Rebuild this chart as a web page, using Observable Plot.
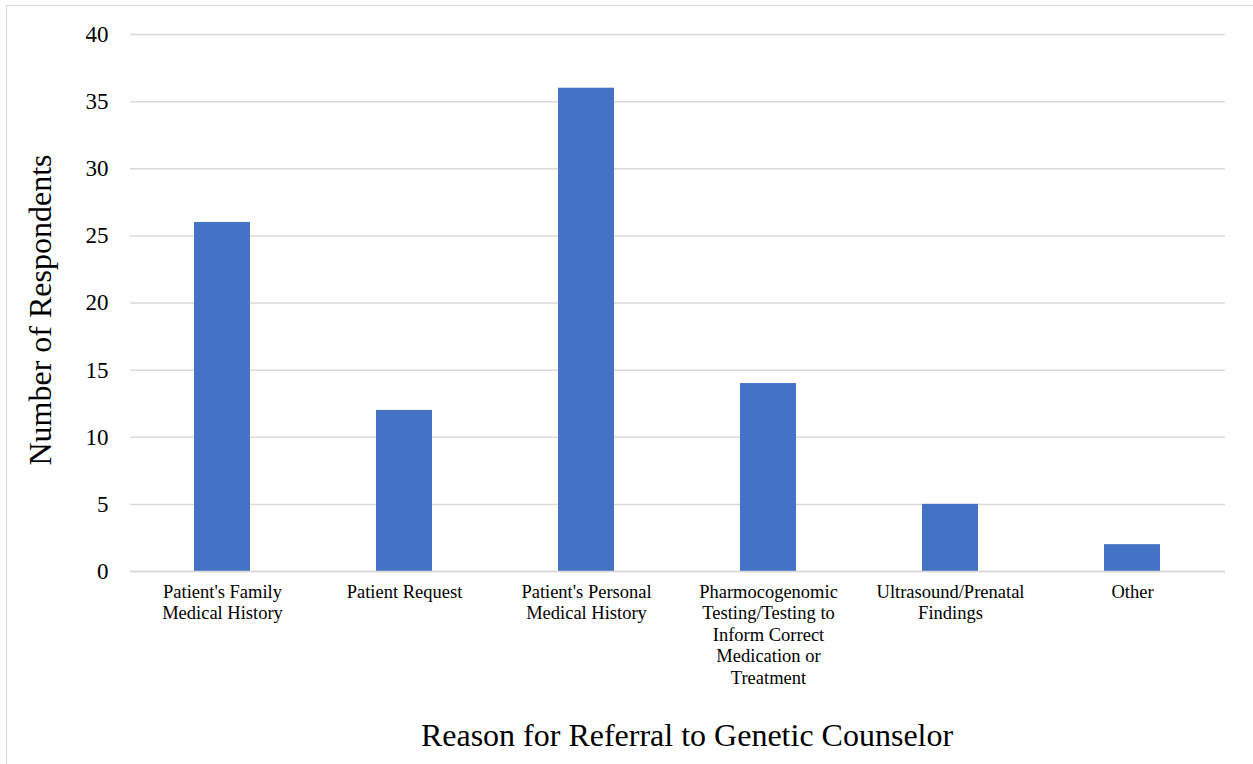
<!DOCTYPE html>
<html>
<head>
<meta charset="utf-8">
<script src="https://cdn.jsdelivr.net/npm/d3@7"></script>
<script src="https://cdn.jsdelivr.net/npm/@observablehq/plot@0.6"></script>
<style>
  html, body { margin: 0; padding: 0; background: #fff; }
  #wrap { position: relative; width: 1253px; height: 764px; overflow: hidden; }
  #border { position: absolute; left: 6px; top: 5px; width: 1260px; height: 780px; border: 1.5px solid #d9d9d9; box-sizing: border-box; pointer-events: none; }
</style>
</head>
<body>
<div id="wrap"><div id="border"></div></div>
<script>
const categories = [
  "Patient's Family\nMedical History",
  "Patient Request",
  "Patient's Personal\nMedical History",
  "Pharmocogenomic\nTesting/Testing to\nInform Correct\nMedication or\nTreatment",
  "Ultrasound/Prenatal\nFindings",
  "Other"
];
const respondents = [26, 12, 36, 14, 5, 2];
const yTicks = [0, 5, 10, 15, 20, 25, 30, 35, 40];
const xTitle = "Reason for Referral to Genetic Counselor";
const yTitle = "Number of Respondents";

const data = categories.map((c, i) => ({category: c, value: respondents[i]}));

const chart = Plot.plot({
  width: 1253,
  height: 764,
  marginLeft: 130,
  marginRight: 28,
  marginTop: 34,
  marginBottom: 193,
  style: {fontFamily: "'Liberation Serif', 'Times New Roman', serif", background: "#fff", color: "#000"},
  x: {domain: categories, paddingInner: 0.69, paddingOuter: 0.345, align: 0.5},
  y: {domain: [0, 40]},
  marks: [
    Plot.gridY(yTicks, {stroke: "#d9d9d9", strokeOpacity: 1, strokeWidth: 1.5}),
    Plot.barY(data, {x: "category", y: "value", fill: "#4472c4"}),
    Plot.ruleY([0], {stroke: "#d9d9d9", strokeWidth: 1.5}),
    Plot.axisY({ticks: yTicks, tickSize: 0, tickPadding: 22, fontSize: 23, label: null}),
    Plot.axisX({tickSize: 0, tickPadding: 11, fontSize: 18.5, lineHeight: 1.16, label: null}),
    Plot.text([yTitle], {frameAnchor: "left", textAnchor: "middle", lineAnchor: "middle", rotate: -90, dx: -90, dy: 7, fontSize: 32, fill: "#000"}),
    Plot.text([xTitle], {frameAnchor: "bottom", dx: 9, dy: 174, fontSize: 32, fill: "#000"})
  ]
});
document.getElementById("wrap").prepend(chart);
</script>
</body>
</html>
